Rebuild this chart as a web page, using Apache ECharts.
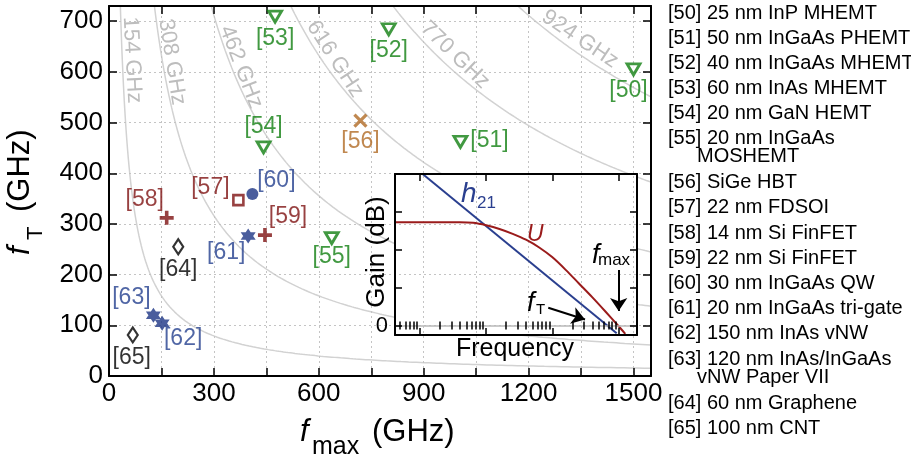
<!DOCTYPE html>
<html><head><meta charset="utf-8">
<script src="https://cdn.jsdelivr.net/npm/echarts@6/dist/echarts.min.js"></script>
<style>html,body{margin:0;padding:0;background:#fff}#c{width:911px;height:458px}</style>
</head><body><div id="c"></div>
<script>
// ---------------- data ----------------
const refs    = ['[50]','[51]','[52]','[53]','[54]','[55]','[56]','[57]','[58]','[59]','[60]','[61]','[62]','[63]','[64]','[65]'];
const fmaxGHz = [1500, 1005, 800, 475, 442, 637, 719, 370, 165, 446, 410, 398, 152, 127, 198, 68];
const fTGHz   = [ 605,  462, 684, 709, 451, 272, 504, 347, 312, 278, 359, 276, 104, 120, 255, 81];
const deviceType = ['hemt','hemt','hemt','hemt','hemt','hemt','hbt','fdsoi','finfet','finfet','qw','star','star','star','carbon','carbon'];
const isoLevels = [154, 308, 462, 616, 770, 924];          // sqrt(fT*fmax) in GHz
const xTickLabels = [0, 300, 600, 900, 1200, 1500];
const yTickLabels = [0, 100, 200, 300, 400, 500, 600, 700];
const legendEntries = [
  '[50] 25 nm InP MHEMT', '[51] 50 nm InGaAs PHEMT', '[52] 40 nm InGaAs MHEMT', '[53] 60 nm InAs MHEMT',
  '[54] 20 nm GaN HEMT', '[55] 20 nm InGaAs', '    MOSHEMT', '[56] SiGe HBT', '[57] 22 nm FDSOI',
  '[58] 14 nm Si FinFET', '[59] 22 nm Si FinFET', '[60] 30 nm InGaAs QW', '[61] 20 nm InGaAs tri-gate',
  '[62] 150 nm InAs vNW', '[63] 120 nm InAs/InGaAs', '    vNW Paper VII', '[64] 60 nm Graphene', '[65] 100 nm CNT'
];
// inset (x = log10 frequency, schematic units; y = gain, schematic units)
const insetH21 = [[0.04, 4.0], [2.97, -0.205]];
const insetU = [[-0.378, 2.725], [0.6, 2.725], [0.8, 2.71], [1.0, 2.645], [1.2, 2.55], [1.4, 2.42], [1.6, 2.265],
                [1.8, 2.06], [2.0, 1.80], [2.2, 1.47], [2.4, 1.11], [2.6, 0.75], [2.8, 0.37], [3.0, -0.02], [3.1, -0.22]];
const insetMajor = [0, 1, 2, 3];
const insetMinorMult = [2, 3, 4, 5, 6, 7, 8, 9];
const arrowFmax = [[3.0, 1.466], [3.0, 0.384]];
const arrowFT   = [[1.937, 0.471], [2.492, 0.159]];

// ---------------- styles ----------------
const FONT = "'Liberation Sans', Arial, Helvetica, sans-serif";
const GREEN = '#118011', BROWN = '#b06a24', RED = '#7e1212', BLUE = '#1d3585', BLUE_L = '#24408f';
const STAR = 'path://M0,-10L8.66,5L-8.66,5Z M0,10L-8.66,-5L8.66,-5Z';
const PLUS = 'path://M5,0L5,10M0,5L10,5';
const CROSS = 'path://M0,0L10,10M10,0L0,10';
const markerStyle = {
  hemt:   { symbol: 'triangle', symbolRotate: 180, symbolSize: [13, 11], itemStyle: { color: '#fff', borderColor: GREEN, borderWidth: 2.8 }, labelColor: GREEN },
  hbt:    { symbol: CROSS, symbolSize: 12, itemStyle: { color: BROWN, borderColor: BROWN, borderWidth: 3.2 }, labelColor: BROWN },
  fdsoi:  { symbol: 'rect', symbolSize: 10, itemStyle: { color: '#fff', borderColor: RED, borderWidth: 2.6 }, labelColor: RED },
  finfet: { symbol: PLUS, symbolSize: 14, itemStyle: { color: RED, borderColor: RED, borderWidth: 3.6 }, labelColor: RED },
  qw:     { symbol: 'circle', symbolSize: 12, itemStyle: { color: BLUE, borderColor: BLUE, borderWidth: 0 }, labelColor: BLUE_L },
  star:   { symbol: STAR, symbolSize: 15, itemStyle: { color: BLUE, borderColor: BLUE, borderWidth: 0 }, labelColor: BLUE_L },
  carbon: { symbol: 'diamond', symbolSize: [10, 15], itemStyle: { color: '#fff', borderColor: '#000', borderWidth: 2.2 }, labelColor: '#000' }
};
// label placement relative to each marker (pixels)
const labelOffset = {
  '[50]': [-5, 21], '[51]': [29, -1], '[52]': [0, 21], '[53]': [0, 22], '[54]': [0, -21], '[55]': [0, 19],
  '[56]': [0, 21], '[57]': [-28, -12], '[58]': [-22, -18], '[59]': [23, -18], '[60]': [24, -13],
  '[61]': [-22, 17], '[62]': [21, 15], '[63]': [-22, -18], '[64]': [0, 23], '[65]': [-1, 23]
};
const isoLabelPlace = { 154: [132, 60, 87], 308: [172, 62, 81], 462: [241, 67, 69], 616: [335, 59, 57], 770: [455, 55, 44], 924: [580, 39, 34] };

// ---------------- build ----------------
const X_MAX = 1550, Y_MAX = 730;
function isoCurve(F) {
  const pts = [], lo = F * F / Y_MAX, n = 300;
  for (let i = 0; i <= n; i++) { const x = lo * Math.pow(X_MAX / lo, i / n); pts.push([x, F * F / x]); }
  return pts;
}
const pointData = refs.map((r, i) => {
  const s = markerStyle[deviceType[i]];
  return {
    value: [fmaxGHz[i], fTGHz[i]], name: r,
    symbol: s.symbol, symbolSize: s.symbolSize, symbolRotate: s.symbolRotate || 0,
    itemStyle: s.itemStyle,
    label: { show: true, position: 'inside', formatter: r, offset: labelOffset[r], color: s.labelColor, fontSize: 23, fontFamily: FONT }
  };
});
const insetMinor = [];
for (let d = -1; d <= 3; d++) insetMinorMult.forEach(k => { const v = d + Math.log10(k); if (v > -0.378 && v < 3.277) insetMinor.push(v); });

const series = [];
isoLevels.forEach(F => series.push({
  type: 'line', xAxisIndex: 0, yAxisIndex: 0, data: isoCurve(F), showSymbol: false, symbol: 'none',
  lineStyle: { color: '#d2d2d2', width: 1.5 }, z: 0, silent: true, clip: true, animation: false
}));
series.push({ type: 'scatter', xAxisIndex: 0, yAxisIndex: 0, data: pointData, z: 6, silent: true, animation: false });
series.push({
  type: 'line', xAxisIndex: 2, yAxisIndex: 2, data: insetH21, showSymbol: false, symbol: 'none', z: 4, clip: true,
  lineStyle: { color: '#2a3f8f', width: 2 }, animation: false, silent: true,
  markLine: { silent: true, symbol: 'none', label: { show: false }, lineStyle: { color: '#b9b9b9', width: 1.5, type: 'solid' }, data: [{ yAxis: 0 }], animation: false }
});
series.push({
  type: 'line', xAxisIndex: 2, yAxisIndex: 2, data: insetU, smooth: 0.3, showSymbol: false, symbol: 'none', z: 4, clip: true,
  lineStyle: { color: '#9a1b1b', width: 2 }, animation: false, silent: true,
  markLine: {
    silent: true, symbolSize: 13, label: { show: false }, lineStyle: { color: '#000', width: 2, type: 'solid' }, animation: false,
    data: [
      [{ coord: arrowFmax[0], symbol: 'none' }, { coord: arrowFmax[1], symbol: 'arrow' }],
      [{ coord: arrowFT[0], symbol: 'none' }, { coord: arrowFT[1], symbol: 'arrow' }]
    ]
  }
});

const axisLine = { show: true, onZero: false, lineStyle: { color: '#000', width: 2 } };
const tickIn = (len, extra) => Object.assign({ show: true, inside: true, length: len, lineStyle: { color: '#000', width: 1.5 } }, extra || {});
const grid0Split = { show: true, lineStyle: { color: '#c4c4c4', type: [2, 3], width: 1 } };
const labelStyle = { color: '#000', fontSize: 26, fontFamily: FONT };

const xAxis = [
  { gridIndex: 0, type: 'value', position: 'bottom', min: 0, max: X_MAX, interval: 150, z: 3, axisLine, axisTick: tickIn(8),
    axisLabel: Object.assign({ margin: 5, formatter: v => xTickLabels.includes(v) ? String(v) : '' }, labelStyle), splitLine: grid0Split },
  { gridIndex: 0, type: 'value', position: 'top', min: 0, max: X_MAX, interval: 150, z: 3, axisLine, axisTick: tickIn(8),
    axisLabel: { show: false }, splitLine: { show: false } },
  { gridIndex: 1, type: 'value', position: 'bottom', min: -0.378, max: 3.277, z: 5, axisLine, axisTick: tickIn(7, { customValues: insetMajor }),
    axisLabel: { show: false }, splitLine: { show: false } },
  { gridIndex: 1, type: 'value', position: 'bottom', min: -0.378, max: 3.277, z: 5, axisLine: { show: false }, axisTick: tickIn(4, { customValues: insetMinor }),
    axisLabel: { show: false }, splitLine: { show: false } },
  { gridIndex: 1, type: 'value', position: 'top', min: -0.378, max: 3.277, z: 5, axisLine, axisTick: tickIn(7, { customValues: insetMajor }),
    axisLabel: { show: false }, splitLine: { show: false } },
  { gridIndex: 1, type: 'value', position: 'top', min: -0.378, max: 3.277, z: 5, axisLine: { show: false }, axisTick: tickIn(4, { customValues: insetMinor }),
    axisLabel: { show: false }, splitLine: { show: false } }
];
const yAxis = [
  { gridIndex: 0, type: 'value', position: 'left', min: 0, max: Y_MAX, interval: 100, z: 3, axisLine, axisTick: tickIn(8),
    axisLabel: Object.assign({ margin: 6, formatter: v => yTickLabels.includes(v) ? String(v) : '' }, labelStyle), splitLine: grid0Split },
  { gridIndex: 0, type: 'value', position: 'right', min: 0, max: Y_MAX, interval: 100, z: 3, axisLine, axisTick: tickIn(8),
    axisLabel: { show: false }, splitLine: { show: false } },
  { gridIndex: 1, type: 'value', position: 'left', min: -0.25, max: 4, z: 5, axisLine, axisTick: tickIn(7, { customValues: [0, 1, 2, 3] }),
    axisLabel: { show: true, customValues: [0], margin: 7, color: '#000', fontSize: 22, fontFamily: FONT }, splitLine: { show: false } },
  { gridIndex: 1, type: 'value', position: 'right', min: -0.25, max: 4, z: 5, axisLine, axisTick: tickIn(7, { customValues: [0, 1, 2, 3] }),
    axisLabel: { show: false }, splitLine: { show: false } }
];

// ---------------- text (titles, annotations, legend) ----------------
const T = (x, y, text, size, extra) => ({ type: 'text', x, y, z: 10, silent: true,
  style: Object.assign({ text, fontSize: size, fontFamily: FONT, fill: '#000', align: 'left', verticalAlign: 'middle' }, extra || {}) });
const graphic = [];
isoLevels.forEach(F => {
  const p = isoLabelPlace[F];
  graphic.push({ type: 'text', x: p[0], y: p[1], rotation: -p[2] * Math.PI / 180, z: 1, silent: true,
    style: { text: F + ' GHz', fontSize: 22, fontFamily: FONT, fill: '#bdbdbd', align: 'center', verticalAlign: 'middle' } });
});
// x-axis title
graphic.push(T(300, 432, 'f', 31, { fontStyle: 'italic' }));
graphic.push(T(312, 447.5, 'max', 25));
graphic.push(T(372, 432, '(GHz)', 31));
// y-axis title
graphic.push({ type: 'group', x: 20, y: 255, rotation: Math.PI / 2, children: [
  T(0, 0, 'f', 31, { fontStyle: 'italic' }), T(15, 15.5, 'T', 22), T(43, 0, '(GHz)', 31)
] });
// inset annotations
graphic.push(T(461, 194.3, 'h', 28, { fontStyle: 'italic', fill: '#2a3f8f' }));
graphic.push(T(477, 203.3, '21', 17, { fill: '#2a3f8f' }));
graphic.push(T(527, 235, 'U', 23, { fontStyle: 'italic', fill: '#9a1b1b' }));
graphic.push(T(592, 255, 'f', 27, { fontStyle: 'italic' }));
graphic.push(T(598, 260.8, 'max', 17));
graphic.push(T(527, 303.6, 'f', 27, { fontStyle: 'italic' }));
graphic.push(T(536, 310.3, 'T', 15));
graphic.push({ type: 'group', x: 377, y: 252, rotation: Math.PI / 2, children: [T(0, 0, 'Gain (dB)', 26, { align: 'center' })] });
graphic.push(T(515, 349, 'Frequency', 25, { align: 'center' }));
// legend list
const legendY = [13, 38, 63, 88, 113, 138, 156, 182, 207, 233, 258, 283, 308, 333, 359, 377, 403, 428];
legendEntries.forEach((s, i) => {
  const cont = s.startsWith('    ');
  graphic.push(T(cont ? 697 : 668, legendY[i], s.trim(), 20));
});

const chart = echarts.init(document.getElementById('c'), null, { renderer: 'canvas' });
chart.setOption({
  animation: false,
  backgroundColor: '#fff',
  grid: [
    { left: 109, top: 6, width: 542, height: 370, show: false },
    { left: 395, top: 174, width: 242, height: 161, show: true, backgroundColor: '#fff', borderWidth: 0, z: 1 }
  ],
  xAxis, yAxis, series, graphic
});
</script></body></html>
